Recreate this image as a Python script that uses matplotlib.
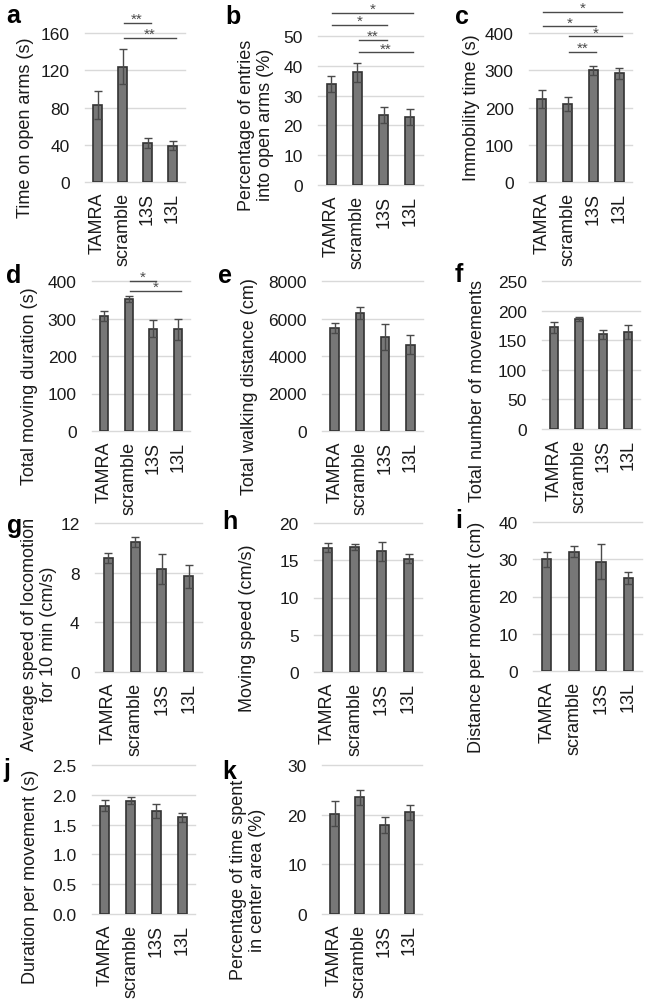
import matplotlib
matplotlib.use("Agg")
import matplotlib.pyplot as plt
import numpy as np

plt.rcParams['font.family'] = ['Liberation Sans', 'DejaVu Sans']

groups = ["TAMRA", "scramble", "13S", "13L"]

# ---- data (mean, error) ----
a_mean = [83, 124, 42, 39];        a_err = [15, 19, 5, 5]
b_mean = [34.0, 37.8, 23.5, 22.8]; b_err = [2.7, 3.2, 2.8, 2.8]
c_mean = [222, 209, 300, 292];     c_err = [24, 19, 12, 15]
d_mean = [307, 352, 273, 271];     d_err = [13, 8, 22, 27]
e_mean = [5500, 6300, 5000, 4600]; e_err = [250, 300, 700, 500]
f_mean = [172, 186, 160, 164];     f_err = [9, 4, 8, 12]
g_mean = [9.2, 10.5, 8.3, 7.7];    g_err = [0.4, 0.4, 1.2, 0.9]
h_mean = [16.7, 16.8, 16.2, 15.2]; h_err = [0.6, 0.4, 1.3, 0.6]
i_mean = [30.0, 32.0, 29.3, 25.0]; i_err = [2.0, 1.5, 4.7, 1.6]
j_mean = [1.82, 1.90, 1.73, 1.62]; j_err = [0.10, 0.06, 0.12, 0.08]
k_mean = [20.2, 23.5, 18.0, 20.5]; k_err = [2.5, 1.5, 1.6, 1.5]

a_ticks = [0, 40, 80, 120, 160]
b_ticks = [0, 10, 20, 30, 40, 50]
c_ticks = [0, 100, 200, 300, 400]
d_ticks = [0, 100, 200, 300, 400]
e_ticks = [0, 2000, 4000, 6000, 8000]
f_ticks = [0, 50, 100, 150, 200, 250]
g_ticks = [0, 4, 8, 12]
h_ticks = [0, 5, 10, 15, 20]
i_ticks = [0, 10, 20, 30, 40]
j_ticks = [0.0, 0.5, 1.0, 1.5, 2.0, 2.5]
j_ticklabels = ["0.0", "0.5", "1.0", "1.5", "2.0", "2.5"]
k_ticks = [0, 10, 20, 30]

# significance brackets: (from group, to group, height, label)
a_sig = [(1, 2, 171, "**"), (1, 3, 155, "**")]
b_sig = [(0, 3, 57.7, "*"), (0, 2, 53.7, "*"), (1, 2, 48.8, "**"), (1, 3, 44.5, "**")]
c_sig = [(0, 3, 456, "*"), (0, 2, 418, "*"), (1, 3, 391, "*"), (1, 2, 350, "**")]
d_sig = [(1, 2, 401, "*"), (1, 3, 374, "*")]

W, H = 645, 1004
fig = plt.figure(figsize=(W / 100, H / 100), dpi=100)

panels = [
    # letter, mean, err, ticks, ticklabels, sig, ylabel, axes px (x0,y0,x1,y1), label px (x,y), letter px (x,baseline)
    ("a", a_mean, a_err, a_ticks, None, a_sig, "Time on open arms (s)", (85, 34, 185, 183), (26, 128), (6, 23)),
    ("b", b_mean, b_err, b_ticks, None, b_sig, "Percentage of entries\ninto open arms (%)", (318, 37, 423, 186), (256, 125), (225, 24)),
    ("c", c_mean, c_err, c_ticks, None, c_sig, "Immobility time (s)", (529, 34, 632, 183), (472, 108), (455, 24)),
    ("d", d_mean, d_err, d_ticks, None, d_sig, "Total moving duration (s)", (92, 282, 190, 432), (30, 386), (6, 283)),
    ("e", e_mean, e_err, e_ticks, None, [], "Total walking distance (cm)", (322, 282, 423, 432), (249, 387), (218, 283)),
    ("f", f_mean, f_err, f_ticks, None, [], "Total number of movements", (542, 282, 640, 430), (477, 391), (455, 282)),
    ("g", g_mean, g_err, g_ticks, None, [], "Average speed of locomotion\nfor 10 min (cm/s)", (95, 524, 202, 673), (39, 634), (7, 533)),
    ("h", h_mean, h_err, h_ticks, None, [], "Moving speed (cm/s)", (314, 524, 422, 673), (248, 628), (222, 529)),
    ("i", i_mean, i_err, i_ticks, None, [], "Distance per movement (cm)", (533, 523, 642, 672), (476, 637), (455, 528)),
    ("j", j_mean, j_err, j_ticks, j_ticklabels, [], "Duration per movement (s)", (92, 766, 195, 915), (31, 877), (3, 777)),
    ("k", k_mean, k_err, k_ticks, None, [], "Percentage of time spent\nin center area (%)", (322, 766, 422, 915), (248, 880), (222, 779)),
]

bar_face = "#777777"
bar_edge = "#333333"
err_col = "#4a4a4a"
grid_col = "#d9d9d9"
txt_col = "#1a1a1a"

for (letter, mean, err, ticks, tlabels, sig, ylabel, (x0, y0, x1, y1), (lx, ly), (px, py)) in panels:
    ax = fig.add_axes([x0 / W, 1 - y1 / H, (x1 - x0) / W, (y1 - y0) / H])
    x = np.arange(len(groups))
    ax.bar(x, mean, width=0.34, color=bar_face, edgecolor=bar_edge, linewidth=1.2, zorder=2)
    ax.errorbar(x, mean, yerr=err, fmt="none", ecolor=err_col, elinewidth=1.0,
                capsize=2.6, capthick=1.0, zorder=3)
    ax.set_xlim(-0.5, 3.5)
    ax.set_ylim(ticks[0], ticks[-1])
    ax.set_yticks(ticks)
    if tlabels is not None:
        ax.set_yticklabels(tlabels)
    ax.set_xticks(x)
    ax.set_xticklabels(groups, rotation=90)
    for s in ax.spines.values():
        s.set_visible(False)
    ax.tick_params(axis="both", length=0, colors=txt_col)
    ax.tick_params(axis="y", pad=11, labelsize=12.5)
    ax.tick_params(axis="x", pad=7, labelsize=13)
    for t in ticks:
        ax.axhline(t, color=grid_col, lw=1.0, zorder=1, clip_on=False)

    for (gi, gj, yh, lab) in sig:
        xs0, xs1 = gi + 0.05, gj + 0.12
        ax.plot([xs0, xs1], [yh, yh], color=err_col, lw=1.0, clip_on=False, zorder=4)
        ax.text((xs0 + xs1) / 2, yh, lab, ha="center", va="baseline",
                fontsize=11, color=err_col, clip_on=False)

    fig.text(lx / W, 1 - ly / H, ylabel, rotation=90, ha="center", va="center",
             fontsize=13, color=txt_col, linespacing=1.2, multialignment="center")
    fig.text(px / W, 1 - py / H, letter, ha="left", va="baseline",
             fontsize=18, fontweight="bold", color="black")

fig.savefig("out.png", dpi=100)
